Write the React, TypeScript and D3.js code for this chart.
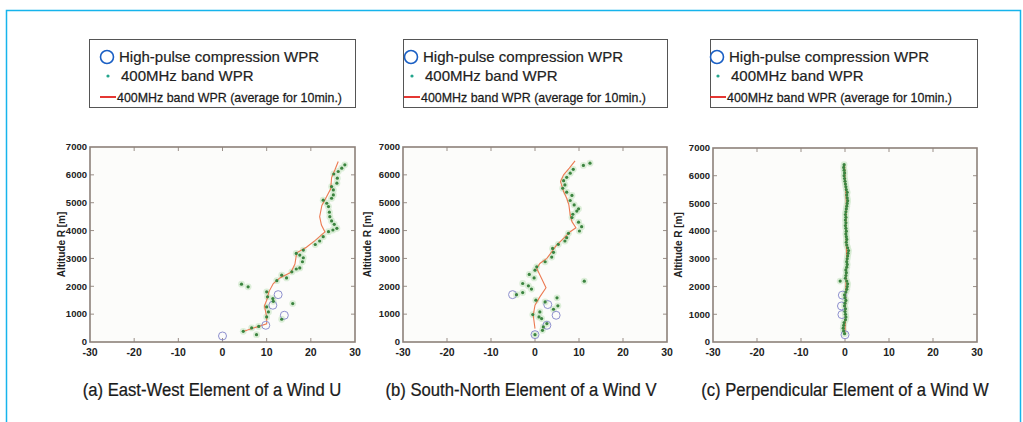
import { useEffect, useRef } from "react";
import * as d3 from "d3";

const W = 1023;
const H = 422;

// ── data (value [m/s], altitude [m]) ─────────────────────────────────────────
const X_TICKS = [-30, -20, -10, 0, 10, 20, 30];
const Y_TICKS = [0, 1000, 2000, 3000, 4000, 5000, 6000, 7000];

const LEGEND_LABELS = [
  "High-pulse compression WPR",
  "400MHz band WPR",
  "400MHz band WPR (average for 10min.)",
];

const CAPTIONS = [
  "(a) East-West Element of a Wind U",
  "(b) South-North Element of a Wind V",
  "(c) Perpendicular Element of a Wind W",
];

const uDots: [number, number][] = [
  [4.7, 384], [6.6, 504], [7.7, 264], [8.2, 560], [4.3, 2077], [5.8, 1980],
  [10, 1800], [10.2, 1620], [11.4, 1560], [11.5, 1460], [10, 1260], [10.4, 1080],
  [10, 900], [13.4, 816], [15.9, 1380], [12.3, 2200], [13.4, 2400], [14.5, 2300],
  [15.7, 2520], [16.7, 2620], [17.5, 2660], [18.1, 2880], [18.3, 3025], [17.5, 3120],
  [16.7, 3180], [18.3, 3300], [21, 3500], [22, 3625], [22.8, 3780], [24, 3960],
  [25, 4020], [25.9, 4080], [25.3, 4225], [24.7, 4345], [24.3, 4500], [24.2, 4660],
  [24, 4860], [23.6, 4980], [22.8, 5090], [24.7, 5160], [25.1, 5280], [25.1, 5460],
  [24.7, 5580], [25.9, 5700], [26, 5880], [25.2, 6030], [26.2, 6120], [27, 6240],
  [27.7, 6360],
];
const uLine: [number, number][] = [
  [4.7, 380], [7, 500], [10, 650], [10, 900], [9.5, 1300], [10, 1500], [10.5, 1800],
  [11.5, 2100], [13, 2300], [15.5, 2500], [16.4, 2800], [16.6, 3000], [16.8, 3200],
  [19, 3400], [21, 3650], [23.2, 3950], [22.4, 4200], [22, 4500], [22.5, 4900],
  [23.5, 5200], [24.5, 5500], [24.7, 5900], [25.5, 6200], [26.2, 6480],
];
const uCircles: [number, number][] = [
  [0, 216], [9.8, 600], [14, 960], [11.4, 1320], [12.6, 1700],
];

const vDots: [number, number][] = [
  [0, 264], [1.7, 420], [1.9, 540], [2.7, 660], [1.5, 840], [0.9, 900], [-0.5, 985],
  [1.1, 1080], [4.2, 1176], [5.2, 1300], [5, 1585], [2.3, 1440], [0.2, 1500],
  [-4.2, 1700], [-2.8, 1776], [-0.8, 1900], [-2.8, 2100], [-1.5, 2017], [-1.3, 2425],
  [-0.2, 2300], [0, 2580], [0.4, 2700], [2.3, 2880], [3.8, 3050], [4.2, 3220],
  [4, 3360], [5.3, 3505], [6.8, 3625], [7.2, 3745], [7.6, 3900], [10.1, 3985],
  [10.6, 4140], [9.9, 4300], [8.4, 4465], [8.6, 4585], [9.5, 4700], [9.9, 4780],
  [8.9, 4920], [8, 5080], [8.4, 5260], [7.2, 5380], [6.3, 5520], [6.8, 5640],
  [6.5, 5790], [7.2, 5910], [8, 6060], [8.7, 6200], [11, 6340], [12.5, 6420],
  [11.2, 2185],
];
const vLine: [number, number][] = [
  [0, 480], [-0.4, 960], [0, 1320], [1.1, 1620], [2.5, 1945], [1.5, 2280], [0.4, 2640],
  [1.1, 2820], [2.7, 3000], [3.8, 3240], [4.9, 3480], [6.5, 3720], [8, 3960],
  [9.3, 4100], [8.4, 4320], [8, 4560], [7.7, 4920], [7.2, 5160], [6.5, 5400],
  [5.8, 5760], [6.5, 6000], [7.8, 6240], [9.1, 6500],
];
const vCircles: [number, number][] = [
  [0, 264], [-5.1, 1700], [2.9, 1345], [4.8, 960], [2.7, 600],
];

const wDots: [number, number][] = [
  [-0.1, 300], [-0.3, 400], [-0.4, 500], [-0.3, 600], [-0.2, 700], [0.1, 800],
  [0.2, 900], [0.1, 1000], [0, 1100], [0.1, 1200], [-0.1, 1300], [0, 1400],
  [0.2, 1500], [0, 1600], [-0.1, 1700], [0.2, 1800], [0.4, 1900], [0.5, 2000],
  [0.6, 2100], [0.4, 2200], [0.1, 2300], [0.2, 2400], [0.3, 2500], [0.2, 2600],
  [0.4, 2700], [0.5, 2800], [0.4, 2900], [0.5, 3000], [0.6, 3100], [0.7, 3200],
  [0.8, 3300], [0.6, 3400], [0.4, 3500], [0.3, 3600], [0.4, 3700], [0.3, 3800],
  [0.2, 3900], [0.3, 4000], [0.2, 4100], [0.1, 4200], [0.2, 4300], [0.1, 4400],
  [0.2, 4500], [0.1, 4600], [0.2, 4700], [0.3, 4800], [0.4, 4900], [0.5, 5000],
  [0.6, 5100], [0.5, 5200], [0.4, 5300], [0.5, 5400], [0.3, 5500], [0.2, 5600],
  [0.1, 5700], [0, 5800], [-0.1, 5900], [-0.2, 6000], [-0.1, 6100], [-0.2, 6200],
  [-0.3, 6300], [-0.2, 6400], [-1.1, 2200],
];
const wLine: [number, number][] = [
  [0, 300], [0.1, 1000], [0.2, 2000], [0.4, 3000], [0.2, 4000], [0.3, 5000],
  [0, 6000], [-0.1, 6400],
];
const wCircles: [number, number][] = [
  [-0.6, 1690], [-0.8, 1300], [-0.7, 990], [0, 260],
];

const SERIES = [
  { dots: uDots, line: uLine, circles: uCircles },
  { dots: vDots, line: vLine, circles: vCircles },
  { dots: wDots, line: wLine, circles: wCircles },
];

// ── layout ───────────────────────────────────────────────────────────────────
const PANELS = [
  { x0: 90, x1: 355, y0: 147, y1: 342, labelX: 61, capX: 212, lgX: 89, lgPad: 18 },
  { x0: 403, x1: 667, y0: 147, y1: 342, labelX: 367, capX: 521, lgX: 403, lgPad: 8 },
  { x0: 713, x1: 977, y0: 148, y1: 342, labelX: 678, capX: 845, lgX: 710, lgPad: 7 },
];

const FONT = "'Liberation Sans', Arial, Helvetica, sans-serif";

export default function App() {
  const svgRef = useRef<SVGSVGElement>(null);

  useEffect(() => {
    if (!svgRef.current) return;
    const svg = d3.select(svgRef.current);
    svg.selectAll("*").remove();

    svg.append("rect").attr("width", W).attr("height", H).attr("fill", "#fff");

    // outer cyan frame
    svg.append("rect")
      .attr("x", 6.5).attr("y", 10.5).attr("width", 1014).attr("height", 430)
      .attr("fill", "none").attr("stroke", "#16b4ec").attr("stroke-width", 1.5);

    // condensed text: regular sans squeezed horizontally
    const narrowText = (sel: any, x: number, y: number, size: number, sx: number, str: string, anchor = "start") =>
      sel.append("text")
        .attr("transform", `translate(${x},${y}) scale(${sx},1)`)
        .attr("text-anchor", anchor)
        .attr("font-family", FONT).attr("font-size", size).attr("fill", "#1a1a1a")
        .attr("stroke", "#1a1a1a").attr("stroke-width", 0.25)
        .text(str);

    PANELS.forEach((p, i) => {
      const s = SERIES[i];
      const x = d3.scaleLinear().domain([-30, 30]).range([p.x0, p.x1]);
      const y = d3.scaleLinear().domain([0, 7000]).range([p.y1, p.y0]);

      // ── legend box ─────────────────────────────────────────────
      const lg = svg.append("g");
      lg.append("rect")
        .attr("x", p.lgX + 0.5).attr("y", 39.5)
        .attr("width", p.x1 - p.lgX).attr("height", 68)
        .attr("fill", "#fff").attr("stroke", "#555").attr("stroke-width", 1);
      const cx = p.lgX + p.lgPad;
      lg.append("circle")
        .attr("cx", cx).attr("cy", 57).attr("r", 6.5)
        .attr("fill", "none").attr("stroke", "#1a5fc4").attr("stroke-width", 1.6);
      lg.append("text")
        .attr("x", cx + 12).attr("y", 62)
        .attr("font-family", FONT).attr("font-size", 15).attr("fill", "#222")
        .attr("stroke", "#222").attr("stroke-width", 0.2)
        .text(LEGEND_LABELS[0]);
      lg.append("circle")
        .attr("cx", cx + 1).attr("cy", 76).attr("r", 1.6).attr("fill", "#23a58c");
      lg.append("text")
        .attr("x", cx + 14).attr("y", 81)
        .attr("font-family", FONT).attr("font-size", 15).attr("fill", "#222")
        .attr("stroke", "#222").attr("stroke-width", 0.2)
        .text(LEGEND_LABELS[1]);
      lg.append("line")
        .attr("x1", cx - 7).attr("x2", cx + 9).attr("y1", 97).attr("y2", 97)
        .attr("stroke", "#e3211c").attr("stroke-width", 1.8);
      narrowText(lg, cx + 10, 101.5, 13.5, 0.92, LEGEND_LABELS[2]);

      // ── plot frame ─────────────────────────────────────────────
      const g = svg.append("g");
      g.append("rect")
        .attr("x", p.x0).attr("y", p.y0)
        .attr("width", p.x1 - p.x0).attr("height", p.y1 - p.y0)
        .attr("fill", "#fcfcfa");

      // inward ticks on all four sides
      X_TICKS.slice(1, -1).forEach(t => {
        g.append("line").attr("x1", x(t)).attr("x2", x(t)).attr("y1", p.y1).attr("y2", p.y1 - 4)
          .attr("stroke", "#9a8f88").attr("stroke-width", 1);
        g.append("line").attr("x1", x(t)).attr("x2", x(t)).attr("y1", p.y0).attr("y2", p.y0 + 4)
          .attr("stroke", "#9a8f88").attr("stroke-width", 1);
      });
      Y_TICKS.slice(1, -1).forEach(t => {
        g.append("line").attr("x1", p.x0).attr("x2", p.x0 + 4).attr("y1", y(t)).attr("y2", y(t))
          .attr("stroke", "#9a8f88").attr("stroke-width", 1);
        g.append("line").attr("x1", p.x1).attr("x2", p.x1 - 4).attr("y1", y(t)).attr("y2", y(t))
          .attr("stroke", "#9a8f88").attr("stroke-width", 1);
      });

      // ── data ───────────────────────────────────────────────────
      g.selectAll("circle.halo")
        .data(s.dots).join("circle").attr("class", "halo")
        .attr("cx", d => x(d[0])).attr("cy", d => y(d[1])).attr("r", 3.4)
        .attr("fill", "#d3ead0").attr("opacity", 0.8);

      g.append("path")
        .datum(s.line)
        .attr("d", d3.line<[number, number]>().x(d => x(d[0])).y(d => y(d[1])))
        .attr("fill", "none").attr("stroke", "#ec7a52").attr("stroke-width", 1.1);

      g.selectAll("circle.cir")
        .data(s.circles).join("circle").attr("class", "cir")
        .attr("cx", d => x(d[0])).attr("cy", d => y(d[1])).attr("r", 4)
        .attr("fill", "none").attr("stroke", "#8e90cf").attr("stroke-width", 1);

      g.selectAll("circle.dot")
        .data(s.dots).join("circle").attr("class", "dot")
        .attr("cx", d => x(d[0])).attr("cy", d => y(d[1])).attr("r", 1.6)
        .attr("fill", "#3b843f");

      g.append("rect")
        .attr("x", p.x0).attr("y", p.y0)
        .attr("width", p.x1 - p.x0).attr("height", p.y1 - p.y0)
        .attr("fill", "none").attr("stroke", "#8d817a").attr("stroke-width", 1.6);

      // ── tick labels ────────────────────────────────────────────
      X_TICKS.forEach(t => {
        g.append("text")
          .attr("x", x(t)).attr("y", p.y1 + 14).attr("text-anchor", "middle")
          .attr("font-family", FONT).attr("font-size", 10.5).attr("font-weight", 700)
          .attr("fill", "#222").text(t);
      });
      Y_TICKS.forEach(t => {
        g.append("text")
          .attr("x", p.x0 - 3).attr("y", y(t)).attr("dy", "0.35em").attr("text-anchor", "end")
          .attr("font-family", FONT).attr("font-size", 9.5).attr("font-weight", 700)
          .attr("fill", "#222").text(t);
      });
      g.append("text")
        .attr("transform", `translate(${p.labelX},${(p.y0 + p.y1) / 2}) rotate(-90)`)
        .attr("dy", "0.35em").attr("text-anchor", "middle")
        .attr("font-family", FONT).attr("font-size", 10).attr("font-weight", 700)
        .attr("fill", "#222").text("Altitude R [m]");

      // ── caption ────────────────────────────────────────────────
      narrowText(svg, p.capX, 396, 19, 0.876, CAPTIONS[i], "middle");
    });
  }, []);

  return (
    <svg
      ref={svgRef}
      width={W}
      height={H}
      viewBox={`0 0 ${W} ${H}`}
      style={{ position: "absolute", left: 0, top: 0, display: "block" }}
    />
  );
}
